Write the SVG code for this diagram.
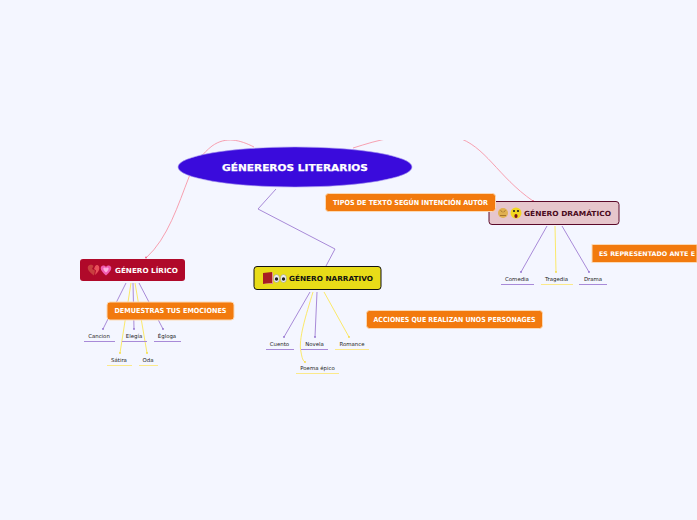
<svg xmlns="http://www.w3.org/2000/svg" width="697" height="520" viewBox="0 0 697 520">
<style>
.pk{fill:none;stroke:#f78a9c;stroke-width:.8}
.pu{fill:none;stroke:#a88ad8;stroke-width:1}
.ye{fill:none;stroke:#fbe96a;stroke-width:1}
.dp{fill:#9070d0}
.dy{fill:#f5dc40}
.d{font-family:"DejaVu Sans",sans-serif;font-weight:700;text-anchor:middle}
.w{fill:#fff}
.o{fill:#f27a0e;stroke:#fbd9b5;stroke-width:1}
.l{font-family:"DejaVu Sans",sans-serif;font-size:5.4px;fill:#222;text-anchor:middle}
.up{stroke:#a88ad8;stroke-width:1}
.uy{stroke:#fbe98a;stroke-width:1}
</style>
<defs><clipPath id="c"><rect x="0" y="140" width="697" height="380"/></clipPath></defs>
<rect width="697" height="520" fill="#f4f6ff"/>
<g id="connectors">
<g clip-path="url(#c)">
<path class="pk" d="M146,258C168,238 178,205 189,177C195,163 203,153 212,146C226,136 240,140 254,147"/>
<path class="pk" d="M353,148C366,144 378,140 392,138"/>
<path class="pk" d="M456,137C486,146 497,176 533,201"/>
</g>
<circle cx="146" cy="257.500" r=".9" fill="#f06080"/><circle cx="533" cy="201" r=".9" fill="#f06080"/>
<path class="pu" d="M276,189L258,209L335,249L326,266"/>
<path class="pu" d="M126,283L103,329M133,283L134,329M139,283L163,329M310,292L284,337M317,292L315,337M547,226L521,272M562,226L589,272"/>
<path class="ye" d="M131,283L120,353M135,283L147,353M324,292L349,337M555,226L556,272M313,292C306,315 298,340 301,352C302,358 303,361 305,362"/>
<g class="dp"><circle cx="103" cy="329" r=".9"/><circle cx="134" cy="329" r=".9"/><circle cx="163" cy="329" r=".9"/><circle cx="284" cy="337" r=".9"/><circle cx="315" cy="337" r=".9"/><circle cx="521" cy="272" r=".9"/><circle cx="589" cy="272" r=".9"/></g>
<g class="dy"><circle cx="120" cy="353" r=".9"/><circle cx="147" cy="353" r=".9"/><circle cx="349" cy="337" r=".9"/><circle cx="556" cy="272" r=".9"/><circle cx="305" cy="362" r=".9"/></g>
</g>
<g id="central"><ellipse cx="295" cy="167" rx="117" ry="20" fill="#3a0bdc" stroke="#a99af0" stroke-width=".6"/><text class="d w" x="295" y="170.500" font-size="9.500" textLength="146" lengthAdjust="spacingAndGlyphs" stroke="#fff" stroke-width=".25">GÉNEREROS LITERARIOS</text></g>
<g id="lirico"><rect x="80" y="259" width="105" height="22" rx="3" fill="#b0092a"/>
<path d="M94,275.500C89,272 87,269 88,266.500C89,264.500 92,264 93.500,266L92,269L95,270.500L94,275.500Z" fill="#c8403f"/>
<path d="M95,275C98,272 100,270 99,266.500C98,264.500 96,264.500 95,266.500L94,269L96,270.500Z" fill="#e8505a"/>
<path d="M106,275.500C102,272 100,269 101,267C102,265 105,265 106,267C107,265 110,265 111,267C112,269 110,272 106,275.500Z" fill="#f05cb0"/>
<path d="M106,272.500C104,271 103,269 103.500,268C104.500,267 105.500,267.500 106,268.500C106.500,267.500 107.500,267 108.500,268C109,269 108,271 106,272.500Z" fill="#fbb0dc"/>
<text class="d w" x="146.500" y="272.500" font-size="7" textLength="63" lengthAdjust="spacingAndGlyphs">GÉNERO LÍRICO</text></g>
<g id="narrativo"><rect x="254" y="266.500" width="127" height="23" rx="3" fill="#e8dc18" stroke="#111" stroke-width="1"/>
<path d="M263,273L272,272V283L263,284Z" fill="#a81e24"/><path d="M272,272L273,273V284L263,284L272,283Z" fill="#e09090"/>
<ellipse cx="276.500" cy="278.500" rx="3" ry="4" fill="#eee" stroke="#777" stroke-width=".4"/><ellipse cx="283.500" cy="278.500" rx="3" ry="4" fill="#eee" stroke="#777" stroke-width=".4"/>
<circle cx="276.500" cy="279" r="1.700" fill="#222"/><circle cx="283.500" cy="279" r="1.700" fill="#222"/>
<text class="d" x="331" y="280.500" font-size="7" textLength="84" lengthAdjust="spacingAndGlyphs" fill="#111">GÉNERO NARRATIVO</text></g>
<g id="dramatico"><rect x="489" y="201.500" width="130" height="23" rx="3" fill="#e6c6cc" stroke="#5c0a2a" stroke-width="1"/>
<circle cx="503" cy="213" r="5" fill="#e0b050"/><circle cx="516" cy="213" r="5.500" fill="#f2d820"/>
<circle cx="514" cy="211" r="1.100" fill="#222"/><circle cx="518" cy="211" r="1.100" fill="#222"/><ellipse cx="516" cy="216" rx="1.600" ry="2.100" fill="#7a1020"/>
<path d="M500,215.500H506M500.500,210.500L502.500,212M505.500,210.500L503.500,212" stroke="#8a5a20" stroke-width=".7" fill="none"/>
<text class="d" x="567.500" y="215.500" font-size="7" textLength="87" lengthAdjust="spacingAndGlyphs" fill="#4a0a20">GÉNERO DRAMÁTICO</text></g>
<g id="demuestras"><rect class="o" x="107" y="302" width="127" height="18" rx="3"/><text class="d w" x="170.500" y="313" font-size="7" textLength="112" lengthAdjust="spacingAndGlyphs">DEMUESTRAS TUS EMOCIONES</text></g>
<g id="tipos"><rect class="o" x="325.500" y="193.500" width="170" height="18" rx="3"/><text class="d w" x="410.500" y="204.500" font-size="7" textLength="155" lengthAdjust="spacingAndGlyphs">TIPOS DE TEXTO SEGÚN INTENCIÓN AUTOR</text></g>
<g id="representado"><rect class="o" x="592" y="244.500" width="105" height="18"/><text class="d w" x="599" y="255.500" font-size="6.300" style="text-anchor:start" textLength="96" lengthAdjust="spacingAndGlyphs">ES REPRESENTADO ANTE E</text></g>
<g id="acciones"><rect class="o" x="366.500" y="310.500" width="176" height="18" rx="3"/><text class="d w" x="454.500" y="322" font-size="7" textLength="162" lengthAdjust="spacingAndGlyphs">ACCIONES QUE REALIZAN UNOS PERSONAGES</text></g>
<g id="cancion"><text class="l" x="99" y="338">Cancion</text><path class="up" d="M84,341.500H115"/></g>
<g id="elegia"><text class="l" x="134" y="338">Elegía</text><path class="up" d="M122,341.500H147"/></g>
<g id="egloga"><text class="l" x="167" y="338">Égloga</text><path class="up" d="M154,341.500H181"/></g>
<g id="satira"><text class="l" x="119" y="362">Sátira</text><path class="uy" d="M107,365.500H132"/></g>
<g id="oda"><text class="l" x="148" y="362">Oda</text><path class="uy" d="M139,365.500H158"/></g>
<g id="cuento"><text class="l" x="279.500" y="346">Cuento</text><path class="up" d="M266,349.500H294"/></g>
<g id="novela"><text class="l" x="314.500" y="346">Novela</text><path class="up" d="M301,349.500H328"/></g>
<g id="romance"><text class="l" x="352" y="346">Romance</text><path class="uy" d="M335,349.500H369"/></g>
<g id="poema"><text class="l" x="317.500" y="370">Poema épico</text><path class="uy" d="M296,373.500H339"/></g>
<g id="comedia"><text class="l" x="517" y="281">Comedia</text><path class="up" d="M501,284.500H534"/></g>
<g id="tragedia"><text class="l" x="556.500" y="281">Tragedia</text><path class="uy" d="M541,284.500H573"/></g>
<g id="drama"><text class="l" x="593" y="281">Drama</text><path class="up" d="M579,284.500H607"/></g>
</svg>
